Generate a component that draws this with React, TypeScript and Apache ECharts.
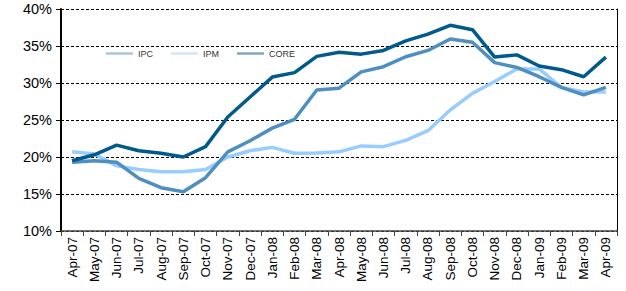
import React, { useEffect, useRef } from "react";
import * as echarts from "echarts";

const categories = [
  "Apr-07","May-07","Jun-07","Jul-07","Aug-07","Sep-07","Oct-07","Nov-07","Dec-07",
  "Jan-08","Feb-08","Mar-08","Apr-08","May-08","Jun-08","Jul-08","Aug-08","Sep-08",
  "Oct-08","Nov-08","Dec-08","Jan-09","Feb-09","Mar-09","Apr-09",
];

const ipc = [19.3, 19.5, 19.3, 17.1, 15.85, 15.3, 17.2, 20.7, 22.2, 23.9, 25.1, 29.05, 29.3, 31.5, 32.2, 33.55, 34.4, 35.95, 35.5, 32.75, 32.1, 30.85, 29.4, 28.4, 29.4];
const ipm = [20.7, 20.4, 18.8, 18.3, 18.0, 18.0, 18.3, 20.0, 20.85, 21.3, 20.5, 20.55, 20.7, 21.5, 21.4, 22.25, 23.55, 26.35, 28.6, 30.2, 31.9, 31.9, 29.4, 28.8, 28.8];
const core = [19.5, 20.3, 21.6, 20.85, 20.5, 20.0, 21.4, 25.4, 28.1, 30.8, 31.4, 33.6, 34.15, 33.9, 34.4, 35.7, 36.6, 37.8, 37.2, 33.5, 33.8, 32.3, 31.8, 30.85, 33.5];

const seriesNames = ["IPC", "IPM", "CORE"];
const yTicks = [10, 15, 20, 25, 30, 35, 40];

export default function App() {
  const ref = useRef<HTMLDivElement>(null);
  useEffect(() => {
    if (!ref.current) return;
    const chart = echarts.init(ref.current, null, { renderer: "svg" });
    const font = "Arial, 'Liberation Sans', sans-serif";
    const legendItem = (name: string, color: string) => ({
      name,
      icon: "rect",
      itemStyle: { color, borderColor: color, borderWidth: 0 },
      lineStyle: { color, width: 0 },
    });
    chart.setOption({
      animation: false,
      grid: { left: 61, right: 9, top: 9, bottom: 60 },
      legend: {
        top: 44,
        left: 101,
        itemWidth: 27,
        itemHeight: 2.5,
        itemGap: 18,
        icon: "rect",
        textStyle: { fontSize: 9, color: "#333", fontFamily: font, width: 21 },
        data: [
          legendItem(seriesNames[0], "#a9c4dc"),
          legendItem(seriesNames[1], "#cfe6fb"),
          legendItem(seriesNames[2], "#7fa6c4"),
        ],
      },
      xAxis: {
        type: "category",
        data: categories,
        boundaryGap: true,
        axisLine: { lineStyle: { color: "#444", width: 1.5 } },
        axisTick: { show: true, length: 5, lineStyle: { color: "#444" } },
        axisLabel: {
          rotate: 90,
          interval: 0,
          fontSize: 13.5,
          color: "#000",
          fontFamily: font,
          margin: 6,
        },
      },
      yAxis: [
        {
          type: "value",
          min: yTicks[0],
          max: yTicks[yTicks.length - 1],
          interval: 5,
          axisLine: { show: true, lineStyle: { color: "#000", width: 2 } },
          axisTick: { show: true, length: 5, lineStyle: { color: "#000" } },
          axisLabel: {
            formatter: (v: number) => `${v}%`,
            fontSize: 14.5,
            color: "#000",
            fontFamily: font,
            margin: 9,
          },
          splitLine: { show: true, lineStyle: { color: "#000", type: [3, 2], width: 1 } },
        },
        {
          type: "value",
          position: "right",
          min: yTicks[0],
          max: yTicks[yTicks.length - 1],
          interval: 5,
          axisLine: { show: true, lineStyle: { color: "#000", width: 1 } },
          axisTick: { show: false },
          axisLabel: { show: false },
          splitLine: { show: false },
        },
      ],
      series: [
        {
          name: seriesNames[0],
          type: "line",
          data: ipc,
          symbol: "none",
          lineStyle: { color: "#4f8fc0", width: 3.5 },
          itemStyle: { color: "#4f8fc0" },
          z: 3,
        },
        {
          name: seriesNames[1],
          type: "line",
          data: ipm,
          symbol: "none",
          lineStyle: { color: "#99ccff", width: 3.5 },
          itemStyle: { color: "#99ccff" },
          z: 2,
        },
        {
          name: seriesNames[2],
          type: "line",
          data: core,
          symbol: "none",
          lineStyle: { color: "#005a8c", width: 3.5 },
          itemStyle: { color: "#005a8c" },
          z: 4,
        },
      ],
    });
    return () => chart.dispose();
  }, []);
  return <div ref={ref} style={{ width: 626, height: 291, position: "absolute", left: 0, top: 0 }} />;
}
